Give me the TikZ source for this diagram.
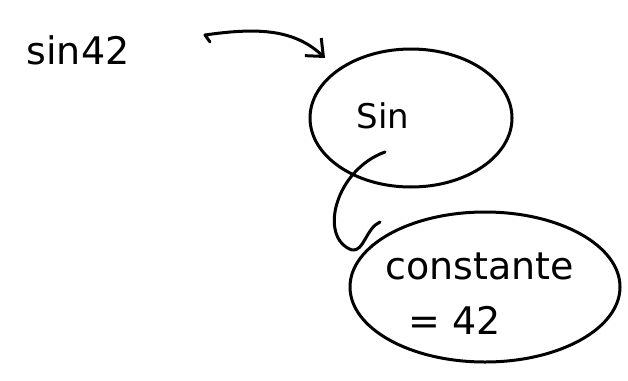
\documentclass[tikz,border=0pt]{standalone}
\usepackage{fontspec}
\setmainfont{DejaVu Sans}
\usetikzlibrary{shapes.geometric,arrows.meta}
\begin{document}
\begin{tikzpicture}[x=1pt,y=-1pt,
  sketch/.style={line width=3pt,line cap=round,line join=round,black},
  bubble/.style={sketch,draw,ellipse,inner sep=0pt},
  label/.style={font=\fontsize{38}{40}\selectfont}]
\useasboundingbox (0,0) rectangle (628,380);
\node[label] (expr) at (78,50) {sin42};
\node[bubble,minimum width=202pt,minimum height=138pt] (sin) at (411,118) {};
\node[label,font=\fontsize{34}{36}\selectfont] (sintxt) at (383,116) {Sin};
\node[bubble,minimum width=270pt,minimum height=150pt] (const) at (485,287) {};
\node[label,anchor=west] (ctxt) at (382,266) {constante};
\node[label,anchor=west] (val) at (405,320) {= 42};
\coordinate (a0) at (210,42);
\coordinate (a1) at (325,58);
\draw[sketch,-{Straight Barb[length=14pt,width=24pt,line width=3pt]}] (a0) -- (205,35) .. controls (260,27) and (295,30) .. (a1);
\coordinate (c1) at (385,152);
\coordinate (c2) at (380,222);
\draw[sketch] (c1) .. controls (335,170) and (318,238) .. (352,250) .. controls (364,252) and (366,228) .. (c2);
\end{tikzpicture}
\end{document}
